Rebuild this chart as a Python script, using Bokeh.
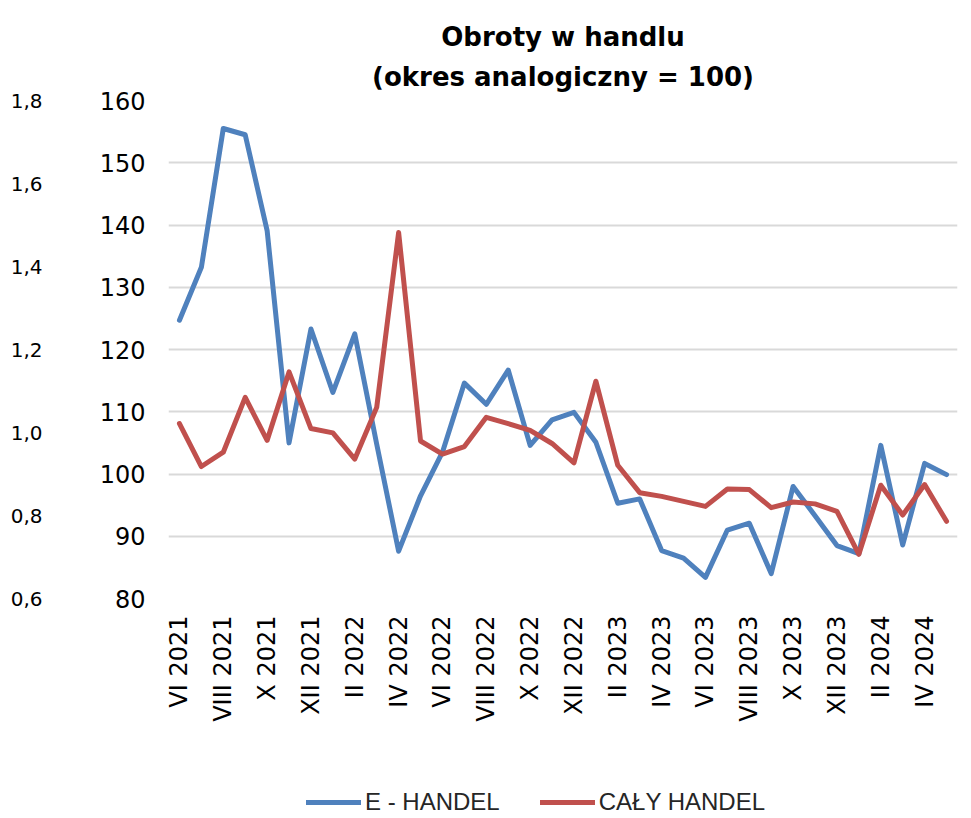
import math
from bokeh.plotting import figure
from bokeh.layouts import column
from bokeh.models import (Range1d, LinearAxis, FixedTicker, CustomJSTickFormatter,
                          Legend, LegendItem, Title, ColumnDataSource)
from bokeh.embed import file_html
from bokeh.resources import INLINE

months = ["VI 2021", "VII 2021", "VIII 2021", "IX 2021", "X 2021", "XI 2021", "XII 2021",
          "I 2022", "II 2022", "III 2022", "IV 2022", "V 2022", "VI 2022", "VII 2022",
          "VIII 2022", "IX 2022", "X 2022", "XI 2022", "XII 2022",
          "I 2023", "II 2023", "III 2023", "IV 2023", "V 2023", "VI 2023", "VII 2023",
          "VIII 2023", "IX 2023", "X 2023", "XI 2023", "XII 2023",
          "I 2024", "II 2024", "III 2024", "IV 2024", "V 2024"]

e_handel = [124.7, 133.2, 155.5, 154.5, 139.1, 105.0, 123.3, 113.1, 122.5, 104.8,
            87.6, 96.5, 103.5, 114.6, 111.2, 116.7, 104.6, 108.7, 109.9, 105.1,
            95.3, 96.0, 87.7, 86.5, 83.4, 91.0, 92.1, 84.0, 98.0, 93.3,
            88.5, 87.2, 104.6, 88.6, 101.7, 99.9]

caly_handel = [108.1, 101.2, 103.5, 112.3, 105.4, 116.4, 107.3, 106.6, 102.4, 110.7,
               138.8, 105.3, 103.2, 104.4, 109.1, 108.1, 107.0, 104.9, 101.8, 114.9,
               101.4, 97.0, 96.4, 95.6, 94.8, 97.6, 97.5, 94.6, 95.5, 95.2,
               94.0, 87.1, 98.2, 93.4, 98.3, 92.4]

y_ticks = [80, 90, 100, 110, 120, 130, 140, 150, 160]
sec_ticks = [0.6, 0.8, 1.0, 1.2, 1.4, 1.6, 1.8]

title_line1 = "Obroty w handlu"
title_line2 = "(okres analogiczny = 100)"
series_names = ["E - HANDEL", "CAŁY HANDEL"]

BLUE = "#4F81BD"
RED = "#C0504D"

idx = list(range(len(months)))
src = ColumnDataSource(dict(x=idx, e=e_handel, c=caly_handel))

p = figure(width=962, height=776, output_backend="svg", toolbar_location=None,
           x_range=Range1d(-0.5, len(months) - 0.5), y_range=Range1d(80, 160),
           min_border_left=168, min_border_right=5, min_border_top=100,
           min_border_bottom=178, outline_line_color=None)
p.title.text = ""
p.title.visible = False

p.add_layout(Title(text=title_line2, align="center", text_font="DejaVu Sans",
                   text_font_style="bold", text_font_size="26px", text_color="black",
                   standoff=17), "above")
p.add_layout(Title(text=title_line1, align="center", text_font="DejaVu Sans",
                   text_font_style="bold", text_font_size="26px", text_color="black",
                   standoff=0), "above")

# grid
p.xgrid.visible = False
p.ygrid.ticker = FixedTicker(ticks=y_ticks)
p.ygrid.grid_line_color = "#D9D9D9"
p.ygrid.grid_line_width = 2

# primary y axis
ya = p.yaxis[0]
ya.ticker = FixedTicker(ticks=y_ticks)
ya.axis_line_color = None
ya.major_tick_line_color = None
ya.minor_tick_line_color = None
ya.major_tick_out = 0
ya.minor_tick_out = 0
ya.major_label_text_font = "DejaVu Sans"
ya.major_label_text_font_size = "24px"
ya.major_label_text_color = "black"
ya.major_label_standoff = 23

# secondary (outer) axis
p.extra_y_ranges = {"sec": Range1d(0.6, 1.8)}
sa = LinearAxis(y_range_name="sec", ticker=FixedTicker(ticks=sec_ticks),
                formatter=CustomJSTickFormatter(code="return tick.toFixed(1).replace('.', ',');"))
sa.axis_line_color = None
sa.major_tick_line_color = None
sa.minor_tick_line_color = None
sa.major_tick_out = 0
sa.minor_tick_out = 0
sa.major_label_text_font = "DejaVu Sans"
sa.major_label_text_font_size = "20px"
sa.major_label_text_color = "black"
sa.major_label_standoff = 54
p.add_layout(sa, "left")

# x axis
xa = p.xaxis[0]
xa.ticker = FixedTicker(ticks=idx[::2])
xa.major_label_overrides = {i: months[i] for i in idx}
xa.major_label_orientation = math.pi / 2
xa.axis_line_color = None
xa.major_tick_line_color = None
xa.minor_tick_line_color = None
xa.major_tick_out = 0
xa.minor_tick_out = 0
xa.major_label_text_font = "DejaVu Sans"
xa.major_label_text_font_size = "24px"
xa.major_label_text_color = "black"
xa.major_label_standoff = 17

p.line("x", "e", source=src, line_color=BLUE, line_width=5,
       line_join="round", line_cap="round")
p.line("x", "c", source=src, line_color=RED, line_width=5,
       line_join="round", line_cap="round")

# legend strip below the chart (series drawn out of view, only the legend shows)
p2 = figure(width=962, height=40, output_backend="svg", toolbar_location=None,
            x_range=Range1d(-0.5, len(months) - 0.5), y_range=Range1d(0, 1),
            x_axis_type=None, y_axis_type=None, outline_line_color=None,
            min_border_left=0, min_border_right=0, min_border_top=0, min_border_bottom=0)
p2.xgrid.visible = False
p2.ygrid.visible = False
l1 = p2.line("x", "e", source=src, line_color=BLUE, line_width=5, line_cap="round")
l2 = p2.line("x", "c", source=src, line_color=RED, line_width=5, line_cap="round")

legend = Legend(items=[LegendItem(label=series_names[0], renderers=[l1]),
                       LegendItem(label=series_names[1], renderers=[l2])],
                orientation="horizontal", location=(138, 0),
                label_text_font="Liberation Sans", label_text_font_size="24px",
                label_text_color="#262626",
                glyph_width=55, glyph_height=20, label_standoff=4, spacing=40,
                border_line_color=None, background_fill_alpha=0,
                padding=2, margin=0)
p2.add_layout(legend, "center")

layout = column(p, p2, spacing=0)
open("out.html", "w").write(file_html(layout, INLINE))
